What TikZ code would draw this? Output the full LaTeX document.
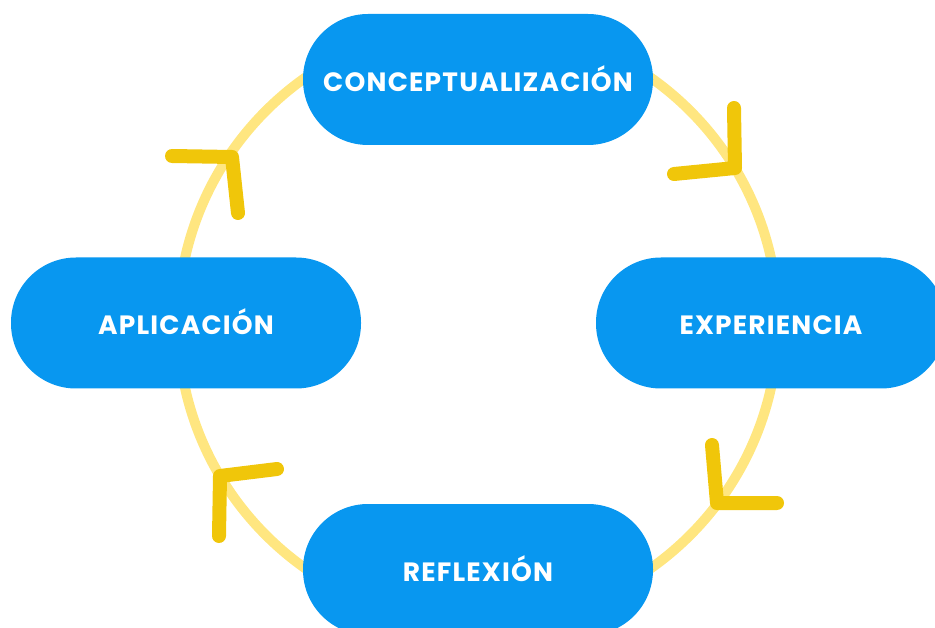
\documentclass[tikz,border=0pt]{standalone}
\usepackage{fontspec}
\setmainfont{Poppins}
\newfontfamily\boxfont{Poppins}[LetterSpace=4.5]
\definecolor{boxblue}{HTML}{0897F0}
\definecolor{ringyellow}{HTML}{FFE680}
\definecolor{chevyellow}{HTML}{F0C60A}
\begin{document}
\begin{tikzpicture}[x=1pt,y=-1pt,
  stagebox/.style={fill=boxblue, draw=none, rounded corners=65pt,
    minimum width=350pt, minimum height=131pt, inner sep=0pt},
  stagelabel/.style={text=white, font=\boxfont\fontsize{26.5}{30}\selectfont\bfseries,
    text height=18.5pt, text depth=0pt, inner sep=0pt},
  chevron/.style={draw=chevyellow, line width=14pt, line cap=round, line join=round}]
\useasboundingbox (0,0) rectangle (935,628);
\clip (0,0) rectangle (935,628);
\draw[ringyellow, line width=10pt] (478,323) circle[radius=300];
\node[stagebox] (concept) at (478,79.5) {};
\node[stagelabel] (conceptlbl) at (478,82.5) {CONCEPTUALIZACIÓN};
\node[stagebox] (exper) at (771,323) {};
\node[stagelabel] (experlbl) at (771,325) {EXPERIENCIA};
\node[stagebox] (reflex) at (478,569.5) {};
\node[stagelabel] (reflexlbl) at (478,572.5) {REFLEXIÓN};
\node[stagebox] (aplic) at (186,323) {};
\node[stagelabel] (apliclbl) at (186,325) {APLICACIÓN};
\draw[chevron] (734,108) -- (735,168) -- (674,174);
\draw[chevron] (172,156) -- (232,157) -- (238,213);
\draw[chevron] (712,445) -- (717,503) -- (777,503);
\draw[chevron] (277,469) -- (220,476) -- (219,536);
\end{tikzpicture}
\end{document}
